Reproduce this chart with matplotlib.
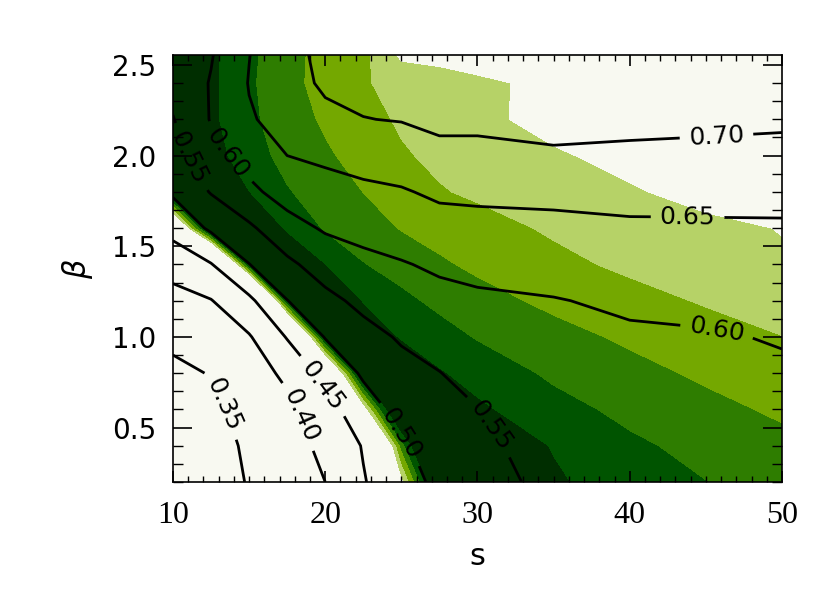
import numpy as np
import matplotlib
matplotlib.use('Agg')
import matplotlib.pyplot as plt
from matplotlib.ticker import MultipleLocator, FormatStrFormatter

# grid of the model run
s_vals = [10, 12.5, 15, 17.5, 20, 22.5, 25, 27.5, 30, 35, 40, 45, 50]
beta_vals = [0.2, 0.4, 0.6, 0.8, 1.0, 1.2, 1.4, 1.6, 1.8, 2.0, 2.2, 2.4, 2.6]

# quantity drawn as black contour lines (rows = beta, cols = s)
ratio = [
    [0.300, 0.320, 0.354, 0.377, 0.400, 0.447, 0.482, 0.510, 0.528, 0.566, 0.575, 0.580, 0.583],
    [0.310, 0.330, 0.358, 0.381, 0.411, 0.453, 0.493, 0.522, 0.539, 0.571, 0.580, 0.584, 0.587],
    [0.325, 0.340, 0.365, 0.387, 0.430, 0.480, 0.514, 0.537, 0.549, 0.576, 0.585, 0.588, 0.590],
    [0.340, 0.352, 0.375, 0.411, 0.465, 0.506, 0.535, 0.549, 0.564, 0.582, 0.590, 0.592, 0.594],
    [0.360, 0.377, 0.396, 0.453, 0.502, 0.534, 0.555, 0.567, 0.578, 0.589, 0.594, 0.596, 0.603],
    [0.384, 0.398, 0.441, 0.499, 0.537, 0.562, 0.576, 0.587, 0.593, 0.598, 0.607, 0.612, 0.617],
    [0.418, 0.448, 0.499, 0.540, 0.572, 0.588, 0.597, 0.607, 0.612, 0.618, 0.625, 0.628, 0.631],
    [0.467, 0.507, 0.542, 0.583, 0.605, 0.614, 0.622, 0.632, 0.635, 0.638, 0.643, 0.644, 0.645],
    [0.506, 0.553, 0.590, 0.618, 0.632, 0.640, 0.646, 0.658, 0.660, 0.662, 0.665, 0.664, 0.663],
    [0.527, 0.585, 0.617, 0.650, 0.659, 0.669, 0.675, 0.694, 0.694, 0.696, 0.690, 0.687, 0.686],
    [0.548, 0.603, 0.646, 0.665, 0.688, 0.699, 0.702, 0.705, 0.705, 0.710, 0.714, 0.712, 0.708],
    [0.565, 0.603, 0.652, 0.680, 0.708, 0.712, 0.712, 0.713, 0.713, 0.720, 0.724, 0.724, 0.720],
    [0.575, 0.595, 0.648, 0.687, 0.712, 0.720, 0.718, 0.718, 0.720, 0.726, 0.730, 0.730, 0.728],
]

# quantity drawn as green shading (class index, 0 = darkest)
band = [
    [0, 0, 0, 0, 0, 0, 0, 0.07, 0.34, 0.88, 1.42, 1.98, 2.37],
    [0, 0, 0, 0, 0, 0, 0, 0, 0.28, 1.05, 1.81, 2.31, 2.73],
    [0, 0, 0, 0, 0, 0, 0, 0.39, 0.81, 1.64, 2.26, 2.72, 3.16],
    [0, 0, 0, 0, 0, 0, 0.42, 0.90, 1.37, 2.18, 2.69, 3.17, 3.59],
    [0, 0, 0, 0, 0, 0.51, 1.05, 1.58, 2.07, 2.66, 3.17, 3.58, 3.98],
    [0, 0, 0, 0, 0.32, 1.03, 1.74, 2.25, 2.64, 3.23, 3.67, 4.09, 4.48],
    [0, 0, 0, 0.05, 0.98, 1.95, 2.42, 2.86, 3.19, 3.75, 4.19, 4.53, 4.86],
    [0, 0, 0, 1.11, 2.10, 2.59, 3.05, 3.35, 3.65, 4.13, 4.43, 4.74, 5.04],
    [0, 0.10, 0.98, 1.92, 2.48, 3.01, 3.47, 3.93, 4.15, 4.52, 4.89, 5.35, 5.85],
    [0, 0.54, 1.57, 2.31, 2.85, 3.38, 3.90, 4.19, 4.42, 4.87, 5.33, 5.80, 6.20],
    [0, 0.78, 1.78, 2.52, 3.15, 3.68, 4.12, 4.43, 4.74, 5.36, 5.90, 6.40, 6.80],
    [0, 0.78, 1.83, 2.69, 3.36, 3.93, 4.24, 4.50, 4.77, 5.30, 5.80, 6.30, 6.80],
    [0, 0.75, 1.74, 2.69, 3.30, 3.70, 5.50, 5.60, 5.80, 6.00, 6.30, 6.60, 7.00],
]

line_levels = [0.35, 0.40, 0.45, 0.50, 0.55, 0.60, 0.65, 0.70]
band_levels = [-1, 1, 2, 3, 4, 5, 10]

WHITE = '#f8f9f1'
LIGHT = '#b6d267'
YGREEN = '#74a800'
GREEN = '#2e7d00'
DARK = '#005400'
DARKEST = '#002e00'
band_colors = [DARKEST, DARK, GREEN, YGREEN, LIGHT, WHITE]

# shading is only valid where ratio >= 0.5
edge_levels = [0.2, 0.484, 0.488, 0.492, 0.496, 0.5]
edge_colors = [WHITE, LIGHT, YGREEN, GREEN, DARK]

label_spots = [(13.4, 0.63), (18.5, 0.57), (20.0, 0.74), (24.9, 0.46),
               (31.0, 0.52), (11.3, 2.0), (13.2, 1.99), (45.7, 1.03),
               (43.8, 1.685), (45.7, 2.10)]


def main():
    fig = plt.figure(figsize=(8.3, 5.93), dpi=100)
    ax = fig.add_axes([0.2084, 0.1872, 0.7338, 0.7201])

    s = np.array(s_vals)
    b = np.array(beta_vals)
    z = np.array(ratio)
    f = np.array(band)

    ax.contourf(s, b, f, levels=band_levels, colors=band_colors)
    ax.contourf(s, b, z, levels=edge_levels, colors=edge_colors)
    cs = ax.contour(s, b, z, levels=line_levels, colors='k', linewidths=2.0)
    ax.clabel(cs, fmt='%.2f', fontsize=18, inline=True, inline_spacing=9,
              manual=label_spots)

    ax.set_xlim(10, 50)
    ax.set_ylim(0.2, 2.555)

    ax.xaxis.set_major_locator(MultipleLocator(10))
    ax.xaxis.set_minor_locator(MultipleLocator(1))
    ax.yaxis.set_major_locator(MultipleLocator(0.5))
    ax.yaxis.set_minor_locator(MultipleLocator(0.1))
    ax.yaxis.set_major_formatter(FormatStrFormatter('%.1f'))

    ax.tick_params(axis='both', which='both', direction='in',
                   top=True, right=True, color='k')
    ax.tick_params(axis='x', which='major', length=8, width=1.2, pad=14)
    ax.tick_params(axis='x', which='minor', length=4, width=1.0)
    ax.tick_params(axis='y', which='major', length=14, width=1.2, pad=12)
    ax.tick_params(axis='y', which='minor', length=7, width=1.0)

    for lab in ax.get_xticklabels():
        lab.set_fontfamily('Liberation Serif')
        lab.set_fontsize(23)
    for lab in ax.get_yticklabels():
        lab.set_fontfamily('DejaVu Sans')
        lab.set_fontsize(20)

    for sp in ax.spines.values():
        sp.set_linewidth(1.2)

    ax.set_xlabel('s', fontsize=22, labelpad=8)
    ax.set_ylabel(r'$\beta$', fontsize=22, labelpad=12)

    fig.savefig('out.png', dpi=100)


if __name__ == "__main__":
    main()
